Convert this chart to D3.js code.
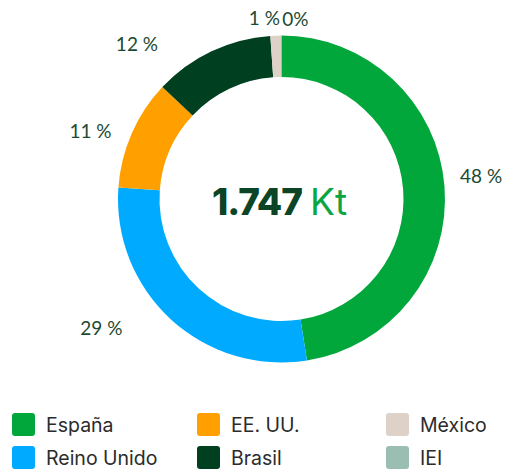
<!DOCTYPE html>
<html>
<head>
<meta charset="utf-8">
<script src="https://cdn.jsdelivr.net/npm/d3@7"></script>
<style>
  html, body { margin: 0; padding: 0; background: #ffffff; }
  svg { display: block; }
</style>
</head>
<body>
<svg id="chart" width="509" height="470"></svg>
<script>
// Exports by destination (Kt)
const countries = ["España", "Reino Unido", "EE. UU.", "Brasil", "México", "IEI"];
const volumes = [830, 500, 190, 208, 18, 1];
const colors = ["#02a73c", "#00abff", "#ff9f00", "#003f20", "#ddd1c8", "#9abfb2"];
const totalLabel = "1.747";
const unitLabel = "Kt";

// Where each percentage label sits: angle (deg, clockwise from top) and distance from centre
const labelPlacement = [
  [83.4, 201], [234.6, 221], [289.8, 203], [317, 212], [354.6, 182], [4.4, 181]
];

const svg = d3.select("#chart");
const cx = 281.5, cy = 199;
const outerR = 163.5, innerR = 122;

const data = countries.map((name, i) => ({ name, value: volumes[i], color: colors[i], i }));
const total = d3.sum(volumes);

const pie = d3.pie().value(d => d.value).sort(null);
const arc = d3.arc().innerRadius(innerR).outerRadius(outerR);

const g = svg.append("g").attr("transform", `translate(${cx},${cy})`);

g.selectAll("path.slice")
  .data(pie(data))
  .join("path")
  .attr("class", "slice")
  .attr("d", arc)
  .attr("fill", d => d.data.color);

// Percentage labels
const pctFmt = v => Math.round(v / total * 100);
g.selectAll("text.pct")
  .data(pie(data))
  .join("text")
  .attr("class", "pct")
  .attr("x", d => {
    const [a, r] = labelPlacement[d.data.i];
    return r * Math.sin(a * Math.PI / 180);
  })
  .attr("y", d => {
    const [a, r] = labelPlacement[d.data.i];
    return -r * Math.cos(a * Math.PI / 180);
  })
  .attr("text-anchor", "middle")
  .attr("dominant-baseline", "central")
  .attr("font-family", "Lato, 'Open Sans', sans-serif")
  .attr("font-weight", 400)
  .attr("font-size", 19)
  .attr("fill", "#1c4a31")
  .text(d => d.data.i === 5 ? pctFmt(d.data.value) + "%" : pctFmt(d.data.value) + " %");

// Centre total
const centre = g.append("text")
  .attr("x", -2)
  .attr("y", 2)
  .attr("text-anchor", "middle")
  .attr("dominant-baseline", "central")
  .attr("font-family", "Inter, 'Open Sans', sans-serif");
centre.append("tspan")
  .attr("font-weight", 800)
  .attr("font-size", 37)
  .attr("letter-spacing", -1)
  .attr("fill", "#0b4526")
  .text(totalLabel);
centre.append("tspan")
  .attr("font-weight", 400)
  .attr("font-size", 37)
  .attr("fill", "#0aa641")
  .attr("dx", 8)
  .text(unitLabel);

// Legend: three columns, filled top to bottom
const colX = [12, 197, 386];
const rowY = [413, 446];
const legend = svg.append("g")
  .selectAll("g")
  .data(data)
  .join("g")
  .attr("transform", (d, i) => `translate(${colX[Math.floor(i / 2)]},${rowY[i % 2]})`);

legend.append("rect")
  .attr("width", 23)
  .attr("height", 23)
  .attr("rx", 3)
  .attr("fill", d => d.color);

legend.append("text")
  .attr("x", 34)
  .attr("y", 12)
  .attr("dominant-baseline", "central")
  .attr("font-family", "Inter, 'Open Sans', sans-serif")
  .attr("font-size", 19.5)
  .attr("fill", "#2b2b2b")
  .text(d => d.name);
</script>
</body>
</html>
